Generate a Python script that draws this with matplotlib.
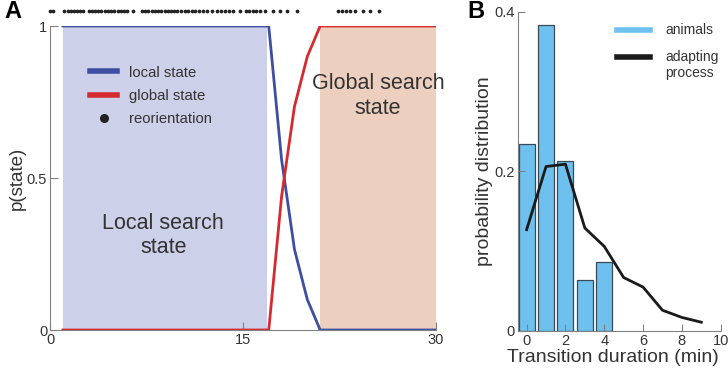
import matplotlib
matplotlib.use("Agg")
import matplotlib.pyplot as plt
from matplotlib.lines import Line2D

plt.rcParams['font.family'] = ['Liberation Sans', 'DejaVu Sans']

# panel A data
t_state = [1, 17, 18, 19, 20, 21, 30]
p_local = [1, 1, 0.56, 0.265, 0.10, 0, 0]
p_global = [0, 0, 0.44, 0.735, 0.90, 1, 1]
local_span = (1.0, 16.9)
global_span = (21.0, 30.0)
reorient_t = [0.0, 0.25,
              1.1, 1.4, 1.65, 1.9, 2.1, 2.35, 2.6,
              3.0, 3.25, 3.5, 3.75, 4.0, 4.25, 4.5, 4.75, 5.0, 5.25, 5.5, 5.75, 6.0, 6.45,
              7.15, 7.4, 7.65, 7.9, 8.15, 8.4, 8.65, 8.9, 9.15, 9.4, 9.65, 9.9,
              10.2, 10.5, 10.75, 11.0, 11.3, 11.6, 11.9, 12.2,
              12.6, 13.0, 13.3, 13.6, 13.9, 14.2,
              14.8, 15.2, 15.5, 15.8, 16.0, 16.3,
              16.7, 17.3, 17.9,
              18.4, 19.2,
              22.4, 22.7, 23.0, 23.3, 23.7,
              24.3, 24.9,
              25.6]

# panel B data
dur_bins = [0, 1, 2, 3, 4]
dur_animals = [0.234, 0.383, 0.213, 0.064, 0.086]
dur_model_x = [0, 1, 2, 3, 4, 5, 6, 7, 8, 9]
dur_model = [0.127, 0.206, 0.209, 0.129, 0.106, 0.067, 0.055, 0.026, 0.017, 0.011]

blue = '#3E4FA3'
red = '#D42A30'
spine_c = '#808080'
txt_c = '#333333'

fig = plt.figure(figsize=(7.28, 3.70), dpi=100)

# ---- panel A
ax = fig.add_axes([50/728, 40/370, 386/728, 304/370])
ax.axvspan(*local_span, color='#CCD0E8', lw=0)
ax.axvspan(*global_span, color='#EDCFBF', lw=0)
ax.plot(t_state, p_local, color=blue, lw=2)
ax.plot(t_state, p_global, color=red, lw=2)
ax.plot(reorient_t, [1.05]*len(reorient_t), 'o', color='#222222', ms=1.7, clip_on=False)
ax.set_xlim(0, 30)
ax.set_ylim(0, 1)
ax.set_xticks([0, 15, 30])
ax.set_xticklabels(['0', '15', '30'])
ax.set_yticks([0, 0.5, 1])
ax.set_yticklabels(['0', '0.5', '1'])
ax.set_ylabel('p(state)', fontsize=13.5, labelpad=1, color=txt_c)
for s in ['top', 'right']:
    ax.spines[s].set_visible(False)
for s in ['left', 'bottom']:
    ax.spines[s].set_color(spine_c)
ax.tick_params(direction='in', length=6, color=spine_c, labelsize=10.5, pad=2, labelcolor=txt_c)
ax.text(8.8, 0.31, 'Local search\nstate', ha='center', va='center', fontsize=15.5, color=txt_c)
ax.text(25.5, 0.77, 'Global search\nstate', ha='center', va='center', fontsize=15.5, color=txt_c)
handles = [Line2D([], [], color=blue, lw=4),
           Line2D([], [], color=red, lw=4),
           Line2D([], [], color='#222222', marker='o', ls='', ms=5.5)]
ax.legend(handles, ['local state', 'global state', 'reorientation'],
          loc='upper left', bbox_to_anchor=(0.103, 0.87), frameon=False,
          fontsize=10.7, handlelength=1.85, handletextpad=0.8, labelspacing=0.62,
          borderpad=0, borderaxespad=0, labelcolor=txt_c)
fig.text(4/728, 1 - 12/370, 'A', fontsize=17, fontweight='bold', va='center', ha='left')

# ---- panel B
bx = fig.add_axes([517.7/728, 39/370, 203/728, 319.3/370])
bx.bar(dur_bins, dur_animals, width=0.83, color='#6EC1EE', edgecolor='#3A4A55', lw=0.9)
bx.plot(dur_model_x, dur_model, color='#1a1a1a', lw=2)
bx.set_xlim(-0.46, 10)
bx.set_ylim(0, 0.4)
bx.set_xticks([0, 2, 4, 6, 8, 10])
bx.set_yticks([0, 0.2, 0.4])
bx.set_yticklabels(['0', '0.2', '0.4'])
bx.set_xlabel('Transition duration (min)', fontsize=14, labelpad=1, color=txt_c)
bx.xaxis.label.set_x(0.47)
bx.set_ylabel('probability distribution', fontsize=14, labelpad=1, color=txt_c)
for s in ['top', 'right']:
    bx.spines[s].set_visible(False)
for s in ['left', 'bottom']:
    bx.spines[s].set_color(spine_c)
bx.tick_params(direction='in', length=5, color=spine_c, labelsize=10.5, pad=2, labelcolor=txt_c)
# legend drawn by hand so the handle sits on the first text line
bx.plot([0.488, 0.65], [0.943, 0.943], color='#6EC1EE', lw=4, transform=bx.transAxes, clip_on=False)
bx.plot([0.488, 0.65], [0.859, 0.859], color='#1a1a1a', lw=4, transform=bx.transAxes, clip_on=False)
bx.text(0.727, 0.943, 'animals', transform=bx.transAxes, fontsize=10, va='center', color=txt_c)
bx.text(0.727, 0.859, 'adapting', transform=bx.transAxes, fontsize=10, va='center', color=txt_c)
bx.text(0.727, 0.809, 'process', transform=bx.transAxes, fontsize=10, va='center', color=txt_c)
fig.text(467/728, 1 - 12/370, 'B', fontsize=17, fontweight='bold', va='center', ha='left')

fig.savefig('out.png', dpi=100)
